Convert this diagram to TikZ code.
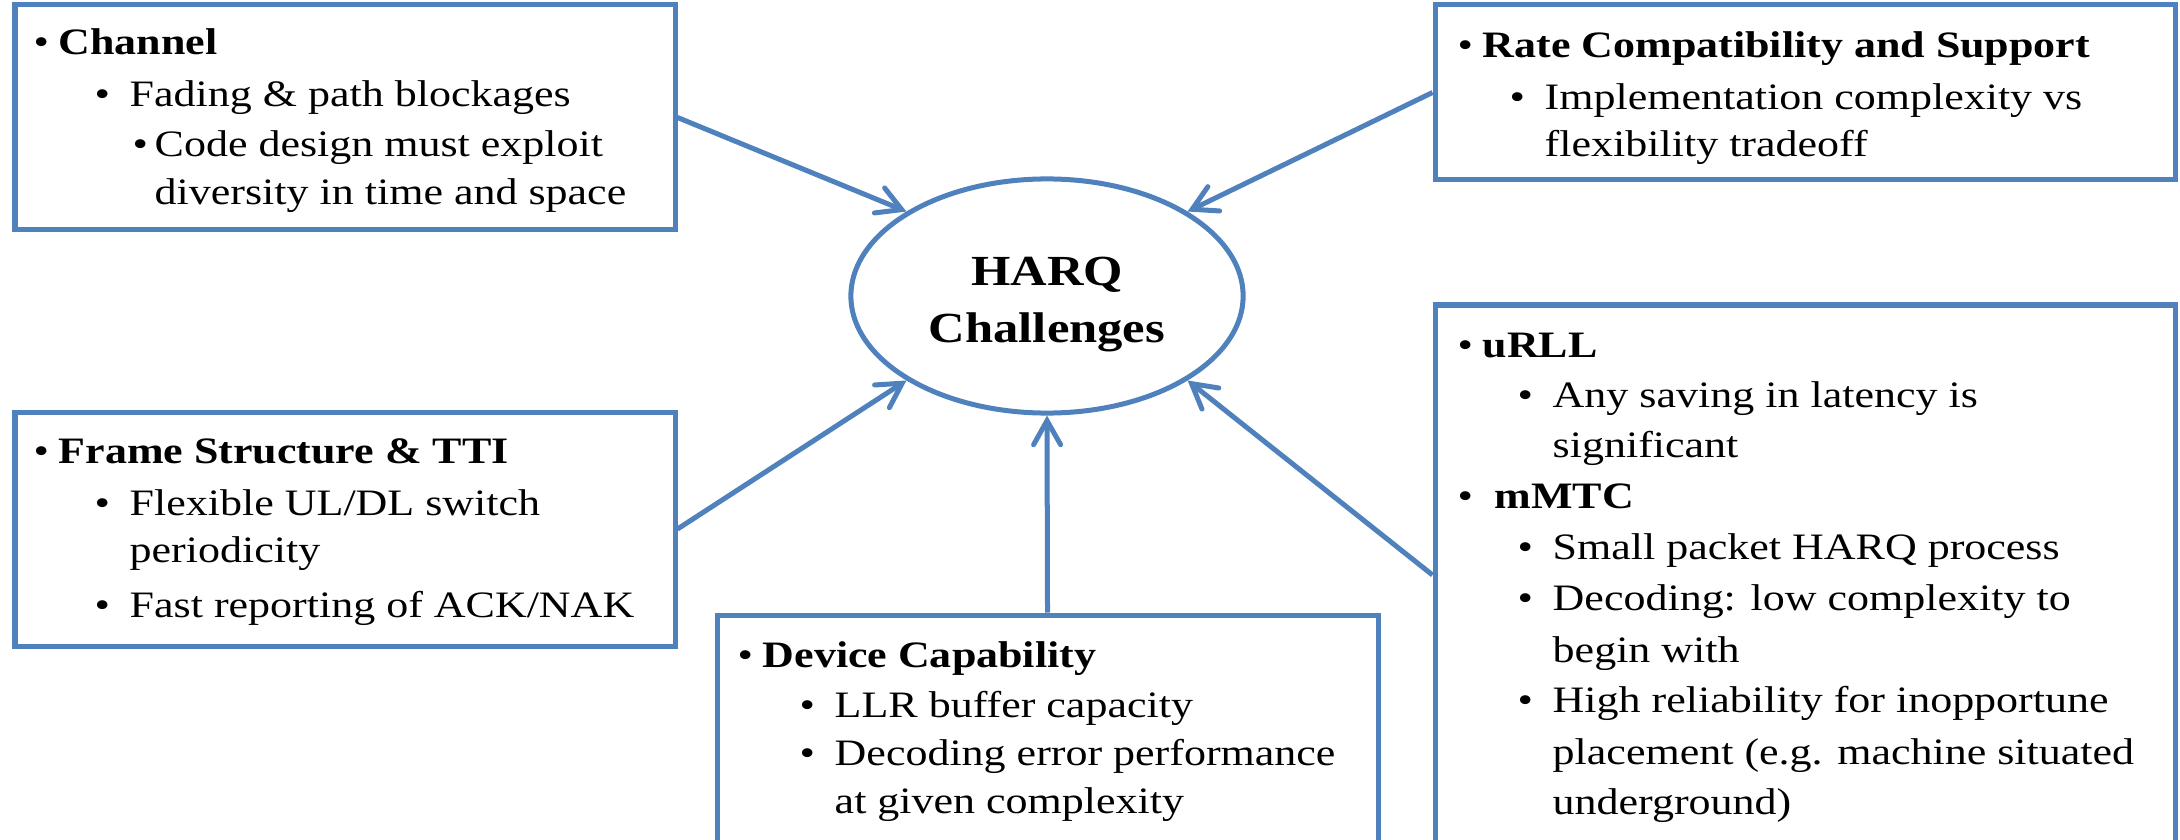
\documentclass[tikz,border=0pt]{standalone}
\usepackage{fontspec}
\setmainfont{Liberation Serif}[FakeStretch=1.18]
\usetikzlibrary{shapes.geometric,arrows.meta,fit}
\definecolor{blu}{RGB}{79,129,189}
% bullets for the list levels
\newcommand\bA{\llap{\makebox[2.5mm][l]{\mdseries\textbullet}}}
\newcommand\bB{\llap{\makebox[3.5mm][l]{\mdseries\textbullet}}}
\newcommand\bC{\llap{\makebox[2.2mm][l]{\mdseries\textbullet}}}
\newcommand\bD{\llap{\makebox[3.7mm][l]{\mdseries\textbullet}}}
\tikzset{
  panel/.style={draw=blu, line width=0.5mm, inner sep=0pt, fill=white},
  txt/.style={anchor=base west, inner sep=0pt, font=\fontsize{10.6pt}{12pt}\selectfont},
  head/.style={anchor=base west, inner sep=0pt, font=\fontsize{10.6pt}{12pt}\selectfont\bfseries},
  hub/.style={ellipse, draw=blu, line width=0.5mm, inner sep=0pt, minimum width=3.92cm, minimum height=2.34cm},
  hubtxt/.style={anchor=base, inner sep=0pt, font=\fontsize{12.2pt}{14pt}\selectfont\bfseries},
  link/.style={draw=blu, line width=0.5mm, -{Straight Barb[length=2.4mm,width=2.7mm,line cap=round]}}
}
\begin{document}
\begin{tikzpicture}[x=0.01cm, y=-0.01cm]
  \clip (0,0) rectangle (2180,840);
  \fill[white] (0,0) rectangle (2180,840);

  % panels
  \node[panel, fit={(15,5) (675,230)}] (b1) {};
  \node[panel, fit={(1435,5) (2175,180)}] (b2) {};
  \node[panel, fit={(15,412) (675,646)}] (b3) {};
  \node[panel, fit={(717,615) (1378,850)}] (b4) {};
  \node[panel, fit={(1435,305) (2175,845)}] (b5) {};

  % central ellipse
  \node[hub] (hc) at (1047,296) {};
  \node[hubtxt] (hc1) at (1047,286) {HARQ};
  \node[hubtxt] (hc2) at (1047,342) {Challenges};

  % Channel
  \node[head] (t11) at (58,55) {\bA Channel};
  \node[txt] (t12) at (129,107) {\bB Fading \& path blockages};
  \node[txt] (t13) at (154,157) {\bC Code design must exploit};
  \node[txt] (t14) at (154,205) {diversity in time and space};

  % Rate compatibility
  \node[head] (t21) at (1482,58) {\bA Rate Compatibility and Support};
  \node[txt] (t22) at (1544,110) {\bB Implementation complexity vs};
  \node[txt] (t23) at (1544,157) {flexibility tradeoff};

  % Frame structure
  \node[head] (t31) at (58,463) {\bA Frame Structure \& TTI};
  \node[txt] (t32) at (129,515) {\bB Flexible UL/DL switch};
  \node[txt] (t33) at (129,562) {periodicity};
  \node[txt] (t34) at (129,617) {\bB Fast reporting of ACK/NAK};

  % Device capability
  \node[head] (t41) at (762,667) {\bA Device Capability};
  \node[txt] (t42) at (834,717) {\bB LLR buffer capacity};
  \node[txt] (t43) at (834,765) {\bB Decoding error performance};
  \node[txt] (t44) at (834,813) {at given complexity};

  % uRLL / mMTC
  \node[head] (t51) at (1482,357) {\bA uRLL};
  \node[txt] (t52) at (1552,407) {\bB Any saving in latency is};
  \node[txt] (t53) at (1552,457) {significant};
  \node[head] (t54) at (1494,508) {\bD mMTC};
  \node[txt] (t55) at (1552,559) {\bB Small packet HARQ process};
  \node[txt] (t56) at (1552,610) {\bB Decoding: low complexity to};
  \node[txt] (t57) at (1552,662) {begin with};
  \node[txt] (t58) at (1552,712) {\bB High reliability for inopportune};
  \node[txt] (t59) at (1552,764) {placement (e.g. machine situated};
  \node[txt] (t5a) at (1552,814) {underground)};

  % connectors
  \draw[link] (b1.east) -- (hc.149);
  \draw[link] (b2.west) -- (hc.31);
  \draw[link] (b3.east) -- (hc.211);
  \draw[link] (b4.north) -- (hc.south);
  \draw[link] (b5.west) -- (hc.329);
\end{tikzpicture}
\end{document}
